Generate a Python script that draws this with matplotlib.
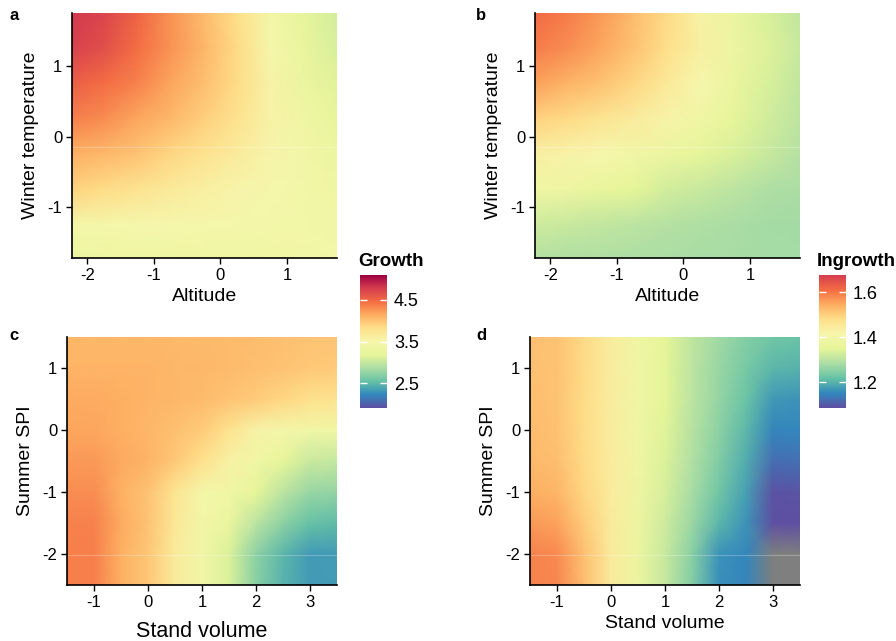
import numpy as np
import matplotlib
matplotlib.use('Agg')
import matplotlib.pyplot as plt
from matplotlib import colors as mcolors
from matplotlib.cm import ScalarMappable

plt.rcParams['font.family'] = ['Liberation Sans', 'DejaVu Sans']
plt.rcParams['axes.unicode_minus'] = False

# %%
# Predicted surfaces at grid nodes
# top row: altitude x winter temperature
alt_x = [-2.25, -1.75, -1.25, -0.75, -0.25, 0.25, 0.75, 1.25, 1.75]
wt_y = [1.75, 1.25, 0.75, 0.25, -0.25, -0.75, -1.25, -1.75]

growth_alt = [
    [4.80, 4.72, 4.52, 4.27, 4.05, 3.82, 3.44, 3.21, 3.08],
    [4.75, 4.65, 4.46, 4.27, 4.08, 3.85, 3.47, 3.25, 3.10],
    [4.55, 4.46, 4.35, 4.18, 4.03, 3.84, 3.55, 3.30, 3.16],
    [4.37, 4.30, 4.17, 4.07, 3.93, 3.78, 3.55, 3.38, 3.22],
    [4.13, 4.07, 4.00, 3.88, 3.77, 3.65, 3.52, 3.42, 3.30],
    [3.90, 3.84, 3.76, 3.68, 3.60, 3.52, 3.47, 3.42, 3.36],
    [3.45, 3.46, 3.48, 3.48, 3.47, 3.45, 3.44, 3.42, 3.40],
    [3.30, 3.33, 3.34, 3.34, 3.35, 3.36, 3.38, 3.40, 3.42],
]

ingrowth_alt = [
    [1.612, 1.595, 1.563, 1.524, 1.485, 1.426, 1.373, 1.334, 1.308],
    [1.595, 1.577, 1.550, 1.518, 1.478, 1.432, 1.380, 1.340, 1.315],
    [1.557, 1.537, 1.518, 1.490, 1.452, 1.413, 1.367, 1.334, 1.308],
    [1.498, 1.485, 1.465, 1.445, 1.420, 1.386, 1.354, 1.327, 1.301],
    [1.432, 1.420, 1.413, 1.393, 1.373, 1.354, 1.334, 1.315, 1.295],
    [1.386, 1.380, 1.360, 1.347, 1.327, 1.315, 1.301, 1.288, 1.282],
    [1.321, 1.315, 1.308, 1.301, 1.295, 1.288, 1.282, 1.278, 1.275],
    [1.290, 1.288, 1.286, 1.284, 1.282, 1.280, 1.279, 1.278, 1.278],
]

# bottom row: stand volume x summer SPI
vol_x = [-1.5, -1, -0.5, 0, 0.5, 1, 1.5, 2, 2.5, 3, 3.5]
spi_y = [1.5, 1, 0.5, 0, -0.5, -1, -1.5, -2, -2.5]

growth_vol = [
    [4.08, 4.08, 4.08, 4.08, 4.07, 4.06, 4.05, 4.04, 4.02, 4.00, 4.00],
    [4.10, 4.10, 4.10, 4.10, 4.08, 4.07, 4.05, 4.03, 4.00, 3.97, 3.96],
    [4.15, 4.15, 4.13, 4.10, 4.08, 4.05, 4.00, 3.95, 3.88, 3.80, 3.78],
    [4.18, 4.17, 4.13, 4.08, 4.02, 3.95, 3.78, 3.55, 3.45, 3.40, 3.38],
    [4.24, 4.24, 4.16, 4.10, 3.97, 3.80, 3.58, 3.38, 3.20, 3.02, 3.00],
    [4.30, 4.30, 4.12, 4.00, 3.75, 3.46, 3.38, 3.20, 2.95, 2.78, 2.75],
    [4.36, 4.36, 4.15, 4.00, 3.70, 3.42, 3.28, 2.95, 2.72, 2.54, 2.50],
    [4.37, 4.37, 4.13, 3.98, 3.65, 3.40, 3.12, 2.72, 2.48, 2.32, 2.33],
    [4.37, 4.37, 4.13, 3.98, 3.65, 3.40, 3.12, 2.70, 2.46, 2.32, 2.33],
]

# values under 1.085 are outside the scale (drawn grey)
ingrowth_vol = [
    [1.520, 1.515, 1.485, 1.440, 1.386, 1.350, 1.305, 1.272, 1.245, 1.228, 1.222],
    [1.520, 1.515, 1.485, 1.440, 1.386, 1.348, 1.303, 1.267, 1.235, 1.205, 1.200],
    [1.522, 1.515, 1.483, 1.440, 1.386, 1.346, 1.300, 1.262, 1.222, 1.170, 1.165],
    [1.525, 1.517, 1.483, 1.440, 1.385, 1.343, 1.296, 1.252, 1.207, 1.148, 1.150],
    [1.530, 1.522, 1.485, 1.441, 1.383, 1.338, 1.290, 1.242, 1.192, 1.124, 1.125],
    [1.544, 1.535, 1.490, 1.442, 1.380, 1.330, 1.280, 1.228, 1.178, 1.090, 1.092],
    [1.565, 1.555, 1.505, 1.443, 1.378, 1.322, 1.268, 1.205, 1.165, 1.086, 1.086],
    [1.586, 1.580, 1.520, 1.445, 1.375, 1.315, 1.250, 1.165, 1.150, 1.000, 1.000],
    [1.588, 1.582, 1.522, 1.445, 1.375, 1.312, 1.245, 1.160, 1.148, 1.000, 1.000],
]

growth_ticks = [2.5, 3.5, 4.5]
ingrowth_ticks = [1.2, 1.4, 1.6]

# %%
# Spectral, reversed, with a slightly deeper middle yellow
spectral = ['#5E4FA2', '#3288BD', '#66C2A5', '#ABDDA4', '#E6F598', '#F6F6AC',
            '#FEE08B', '#FDAE61', '#F46D43', '#D53E4F', '#9E0142']
spec_cmap = mcolors.LinearSegmentedColormap.from_list('spec', spectral, N=512)

growth_cmap = spec_cmap
growth_norm = mcolors.Normalize(1.9, 5.1)
ingrowth_cmap = mcolors.ListedColormap(spec_cmap(np.linspace(0, 0.9, 256)))
ingrowth_cmap.set_under('#7f7f7f')
ingrowth_norm = mcolors.Normalize(1.085, 1.676)

W, H = 896, 641
fig = plt.figure(figsize=(W / 100, H / 100), dpi=100)


def px_axes(l, t, r, b):
    # pixel box -> figure fraction
    return fig.add_axes([l / W, 1 - b / H, (r - l) / W, (b - t) / H])


def style(ax):
    for s in ['top', 'right']:
        ax.spines[s].set_visible(False)
    for s in ['left', 'bottom']:
        ax.spines[s].set_linewidth(1.2)
    ax.tick_params(direction='out', length=4, width=1, labelsize=12, pad=3)


panels = [
    # box, x, y, z, cmap, norm, xlim, ylim, xticks, yticks, xlabel, ylabel, seam, letter
    ((72, 13, 337, 258), alt_x, wt_y, growth_alt, growth_cmap, growth_norm,
     (-2.23, 1.75), (-1.72, 1.75), [-2, -1, 0, 1], [-1, 0, 1],
     'Altitude', 'Winter temperature', -0.15, 'a', 14, 4),
    ((535, 13, 800, 258), alt_x, wt_y, ingrowth_alt, ingrowth_cmap, ingrowth_norm,
     (-2.23, 1.75), (-1.72, 1.75), [-2, -1, 0, 1], [-1, 0, 1],
     'Altitude', 'Winter temperature', -0.15, 'b', 14, 4),
    ((67, 337, 337, 585), vol_x, spi_y, growth_vol, growth_cmap, growth_norm,
     (-1.5, 3.5), (-2.5, 1.5), [-1, 0, 1, 2, 3], [-2, -1, 0, 1],
     'Stand volume', 'Summer SPI', -2.02, 'c', 15.5, 8),
    ((530, 337, 800, 585), vol_x, spi_y, ingrowth_vol, ingrowth_cmap, ingrowth_norm,
     (-1.5, 3.5), (-2.5, 1.5), [-1, 0, 1, 2, 3], [-2, -1, 0, 1],
     'Stand volume', 'Summer SPI', -2.02, 'd', 14, 4),
]

for (box, x, y, z, cmap, norm, xlim, ylim, xt, yt, xl, yl, seam, letter, xfs, xpad) in panels:
    ax = px_axes(*box)
    ax.pcolormesh(x, y, np.array(z), shading='gouraud', cmap=cmap, norm=norm)
    ax.axhline(seam, color='white', alpha=0.25, lw=0.8)
    ax.set_xlim(*xlim)
    ax.set_ylim(*ylim)
    ax.set_xticks(xt)
    ax.set_yticks(yt)
    ax.set_xlabel(xl, fontsize=xfs, labelpad=xpad)
    ax.set_ylabel(yl, fontsize=14, labelpad=6)
    style(ax)
    lx = 9 if box[0] < 100 else 476
    ly = 16 if box[1] < 100 else 336
    fig.text(lx / W, 1 - ly / H, letter, fontsize=12, fontweight='bold', ha='left', va='center')

# colour bars
for (l, cmap, norm, ticks, title) in [(360, growth_cmap, growth_norm, growth_ticks, 'Growth'),
                                      (819, ingrowth_cmap, ingrowth_norm, ingrowth_ticks, 'Ingrowth')]:
    cax = px_axes(l, 275, l + 27, 408)
    sm = ScalarMappable(norm=norm, cmap=cmap)
    cb = fig.colorbar(sm, cax=cax, ticks=ticks)
    cb.outline.set_visible(False)
    cax.tick_params(direction='in', length=5, width=1, color='white', left=True, right=True,
                    labelsize=13, pad=5)
    fig.text((l - 2) / W, 1 - 262 / H, title, fontsize=13.5, fontweight='bold', ha='left', va='center')

fig.savefig('out.png', dpi=100)
